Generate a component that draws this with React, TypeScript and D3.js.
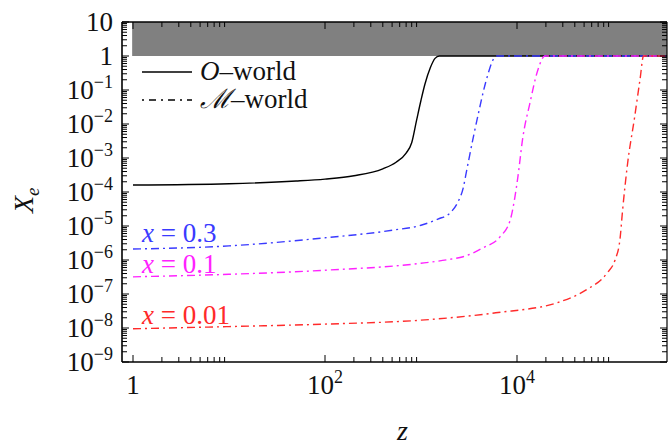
import React from "react";
import * as d3 from "d3";

const W = 669;
const H = 447;

// O-world (solid black)
const oWorldZ = [1, 10, 50, 100, 200, 400, 550, 700, 800, 900, 1000, 1100, 1250, 1400, 1550, 4e5];
const oWorldXe = [1.6e-4, 1.75e-4, 2.1e-4, 2.4e-4, 3.0e-4, 4.8e-4, 7.5e-4, 1.4e-3, 2.8e-3, 1.3e-2, 5e-2, 0.15, 0.45, 0.85, 1, 1];

// M-world x = 0.3 (blue)
const m03Z = [1, 10, 100, 500, 1000, 1500, 2000, 2400, 2750, 3000, 3500, 4000, 4500, 5000, 5600, 6200, 4e5];
const m03Xe = [2.1e-6, 2.6e-6, 4.5e-6, 7.5e-6, 1.05e-5, 1.6e-5, 2.4e-5, 4.8e-5, 1.3e-4, 4.5e-4, 4e-3, 2.3e-2, 0.1, 0.3, 0.75, 1, 1];

// M-world x = 0.1 (magenta)
const m01Z = [1, 10, 100, 1000, 2000, 2750, 4450, 6650, 8500, 9500, 10200, 11500, 13600, 16500, 19500, 4e5];
const m01Xe = [3.2e-7, 3.8e-7, 5e-7, 8e-7, 1.05e-6, 1.25e-6, 2.3e-6, 4.8e-6, 1.5e-5, 7e-5, 2.7e-4, 4e-3, 4e-2, 0.39, 1, 1];

// M-world x = 0.01 (red)
const m001Z = [1, 10, 100, 1000, 6000, 26000, 52000, 87000, 105000, 118000, 126000, 142000, 168000, 191000, 208000, 4e5];
const m001Xe = [9.5e-9, 1.1e-8, 1.3e-8, 1.7e-8, 2.8e-8, 5.5e-8, 1.3e-7, 4.2e-7, 1e-6, 3.9e-6, 3e-5, 7e-4, 1.6e-2, 0.2, 1, 1];

const yTickExps = [1, 0, -1, -2, -3, -4, -5, -6, -7, -8, -9];
const xMajorExps = [0, 2, 4];
const minorMults = [2, 3, 4, 5, 6, 7, 8, 9];
const bandRange = [1, 10];
const bandZStart = 0.98;

const seriesLabels = ["x = 0.3", "x = 0.1", "x = 0.01"];

const left = 122;
const right = 667;
const top = 22;
const bottom = 362;

const FONT = "Liberation Serif, Times New Roman, Times, serif";

export default function App() {
  const x = d3.scaleLog().domain([10 ** ((left - 133) / 96), 10 ** ((right - 133) / 96)]).range([left, right]);
  const y = d3.scaleLog().domain([1e-9, 10]).range([bottom, top]);

  const line = d3
    .line<[number, number]>()
    .x((d) => x(Math.min(d[0], x.domain()[1])))
    .y((d) => y(d[1]))
    .curve(d3.curveMonotoneX);

  const mk = (zs: number[], vs: number[]) => line(zs.map((z, i) => [z, vs[i]] as [number, number])) || "";

  const series = [
    { zs: m03Z, vs: m03Xe, color: "#3a3aff" },
    { zs: m01Z, vs: m01Xe, color: "#ff22ff" },
    { zs: m001Z, vs: m001Xe, color: "#ff2a2a" },
  ];

  const dash = "8,4,2,4";

  const xMajor = xMajorExps.map((e) => 10 ** e);
  const xMinor: number[] = [];
  xMajor.forEach((m) => minorMults.forEach((k) => xMinor.push(m * k)));

  const yMajor = yTickExps.map((e) => 10 ** e);
  const yMinor: number[] = [];
  yTickExps.forEach((e) => {
    if (e < 1) minorMults.forEach((k) => yMinor.push(10 ** e * k));
  });

  const labelPos = [
    { x: 142, y: 242 },
    { x: 142, y: 273 },
    { x: 142, y: 324 },
  ];

  return (
    <svg width={W} height={H} style={{ position: "absolute", left: 0, top: 0, background: "#fff" }}>
      <rect
        x={x(bandZStart)}
        y={y(bandRange[1])}
        width={right - x(bandZStart)}
        height={y(bandRange[0]) - y(bandRange[1])}
        fill="#808080"
      />
      <path d={mk(oWorldZ, oWorldXe)} fill="none" stroke="#000" strokeWidth={1.4} />
      {series.map((s, i) => (
        <path key={i} d={mk(s.zs, s.vs)} fill="none" stroke={s.color} strokeWidth={1.4} strokeDasharray={dash} />
      ))}

      <line x1={left} x2={left} y1={top} y2={bottom} stroke="#000" strokeWidth={1.6} />
      <line x1={left} x2={right} y1={bottom} y2={bottom} stroke="#000" strokeWidth={1.6} />
      <line x1={left} x2={right} y1={top} y2={top} stroke="#000" strokeWidth={1.6} />
      <line x1={right} x2={right} y1={top} y2={bottom} stroke="#000" strokeWidth={1.2} />

      {xMajor.map((v) => (
        <g key={"xm" + v}>
          <line x1={x(v)} x2={x(v)} y1={bottom} y2={bottom - 7} stroke="#000" strokeWidth={1} />
          <line x1={x(v)} x2={x(v)} y1={top} y2={top + 7} stroke="#000" strokeWidth={1} />
        </g>
      ))}
      {xMinor.map((v) => (
        <g key={"xn" + v}>
          <line x1={x(v)} x2={x(v)} y1={bottom} y2={bottom - 5} stroke="#000" strokeWidth={1} />
          <line x1={x(v)} x2={x(v)} y1={top} y2={top + 5} stroke="#000" strokeWidth={1} />
        </g>
      ))}
      {yMajor.map((v) => (
        <g key={"ym" + v}>
          <line x1={left} x2={left + 7} y1={y(v)} y2={y(v)} stroke="#000" strokeWidth={1} />
          <line x1={right} x2={right - 7} y1={y(v)} y2={y(v)} stroke="#000" strokeWidth={1} />
        </g>
      ))}
      {yMinor.map((v) => (
        <g key={"yn" + v}>
          <line x1={left} x2={left + 5} y1={y(v)} y2={y(v)} stroke="#000" strokeWidth={1} />
          <line x1={right} x2={right - 5} y1={y(v)} y2={y(v)} stroke="#000" strokeWidth={1} />
        </g>
      ))}

      {yTickExps.map((e) => (
        <text key={"yl" + e} x={113} y={y(10 ** e) + 9} textAnchor="end" fontFamily={FONT} fontSize={27} fill="#111">
          {e === 1 ? "10" : e === 0 ? "1" : (
            <>
              10
              <tspan fontSize={18} dy={-11}>{"\u2212" + -e}</tspan>
            </>
          )}
        </text>
      ))}

      {xMajorExps.map((e) => (
        <text key={"xl" + e} x={x(10 ** e)} y={394} textAnchor="middle" fontFamily={FONT} fontSize={27} fill="#111">
          {e === 0 ? "1" : (
            <>
              10
              <tspan fontSize={18} dy={-11}>{String(e)}</tspan>
            </>
          )}
        </text>
      ))}

      <text x={397} y={440} fontFamily={FONT} fontSize={28} fontStyle="italic" fill="#111">z</text>
      <g transform="translate(33,213) rotate(-90)">
        <text x={0} y={0} fontFamily={FONT} fontSize={28} fontStyle="italic" fill="#111">
          X<tspan fontSize={19} dy={6}>e</tspan>
        </text>
      </g>

      <line x1={142} x2={192} y1={72} y2={72} stroke="#000" strokeWidth={1.3} />
      <text x={200} y={80} fontFamily={FONT} fontSize={27} fill="#111">
        <tspan fontStyle="italic">O</tspan>–world
      </text>
      <line x1={142} x2={192} y1={100} y2={100} stroke="#000" strokeWidth={1.3} strokeDasharray="2,5,7,5" />
      <text x={200} y={108} fontFamily={FONT} fontSize={27} fill="#111">
        <tspan fontStyle="italic">ℳ</tspan>–world
      </text>

      {seriesLabels.map((t, i) => {
        const [v, rest] = t.split(" = ");
        return (
          <text key={t} x={labelPos[i].x} y={labelPos[i].y} fontFamily={FONT} fontSize={27} fill={series[i].color}>
            <tspan fontStyle="italic">{v}</tspan> = {rest}
          </text>
        );
      })}
    </svg>
  );
}
